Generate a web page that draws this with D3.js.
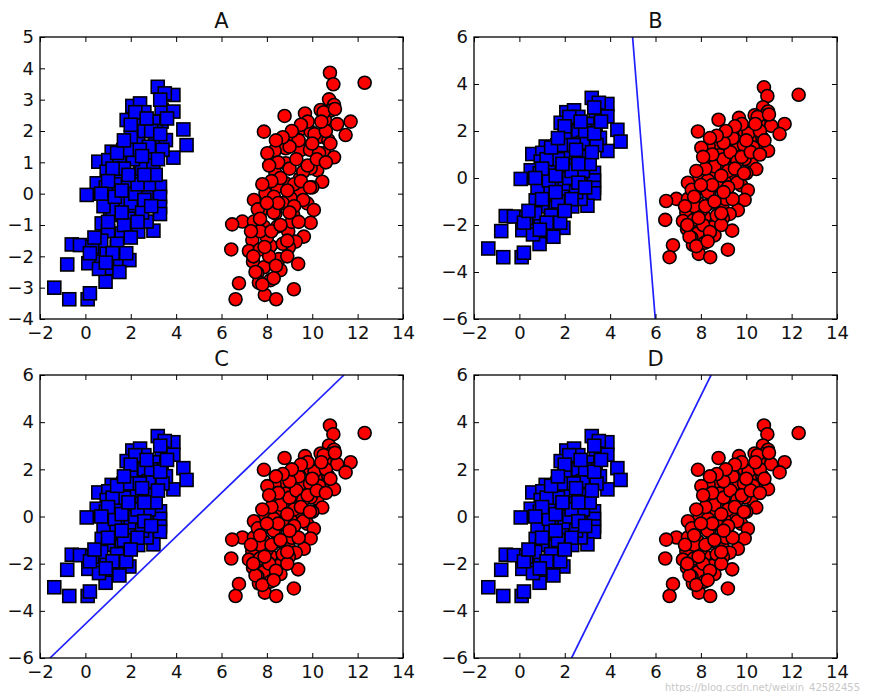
<!DOCTYPE html>
<html><head><meta charset="utf-8">
<script src="https://cdn.jsdelivr.net/npm/d3@7"></script>
<style>body{margin:0;background:#fff;} svg{display:block;}</style>
</head><body>
<svg id="chart" width="870" height="692"></svg>
<script>
const blueX = [3.19,3.88,3.5,2.07,2.41,3.36,3.88,1.82,2.35,3.36,4.32,4.46,3.88,2.33,3.07,3.55,1.16,1.67,2.88,0.57,1.01,2.41,0.94,0.5,1.09,0.06,2.41,2.92,3.29,3.29,3.29,3.29,2.19,2.7,1.53,0.72,1.6,2.33,3.0,2.7,1.09,-0.6,-0.24,0.42,1.38,-0.8,0.42,1.16,1.53,1.94,0.94,0.13,0.89,-1.37,-0.71,0.1,0.2,
  1.5,1.8,2.0,1.2,2.5,2.1,1.5,2.8,1.0,1.4,0.7,2.0,2.6,3.0,2.8,1.9,2.5,1.3,0.8,2.6,3.1,1.7,2.2,0.3,1.8,0.6,1.9,3.4,3.0,1.2,2.2,0.9,1.7,
  1.3,1.6,2.3,2.6,2.9,3.1,2.4,1.9,1.0,0.7,1.4,1.0,1.6,2.3,2.0,1.2,0.2,0.9,1.5,2.5,2.9,3.3,2.7,3.6,3.3,2.0,1.7,3.2,2.6,0.4];
const blueY = [3.41,3.15,3.2,2.8,2.88,2.67,2.62,2.35,2.33,2.3,2.05,1.55,1.15,1.66,1.66,1.71,1.34,1.39,1.23,1.02,1.07,1.02,0.7,0.33,0.01,-0.04,0.49,0.54,0.22,-0.1,-0.42,-0.65,-0.42,0.01,-0.31,-0.95,-1.27,-1.21,-1.18,-0.89,-0.68,-1.62,-1.64,-1.8,-1.69,-2.26,-2.17,-2.38,-2.12,-2.12,-1.9,-2.22,-2.81,-3.0,-3.37,-3.37,-3.18,
  0.5,0.2,-0.3,-0.5,0.8,1.1,1.0,0.3,-1.2,-1.6,-1.5,1.8,2.0,2.3,1.5,-0.8,-0.6,0.3,-0.4,2.6,2.0,0.8,0.0,-1.7,-1.9,-2.4,1.4,1.4,0.9,0.8,2.6,0.2,-1.0,
  -0.1,0.1,0.3,-0.2,-0.4,0.6,1.4,0.6,0.4,0.0,1.3,-0.9,-0.6,-0.9,-1.4,-1.9,-1.9,-2.2,-2.5,1.2,2.0,1.9,2.4,2.4,3.0,2.2,1.7,1.1,0.6,-1.4];
const redX = [10.78,10.93,12.31,10.74,10.96,10.81,10.37,10.56,9.68,8.78,7.87,11.1,11.69,11.47,9.59,9.19,9.93,10.37,10.71,10.52,10.96,10.22,10.44,9.93,9.49,8.83,8.34,8.02,8.83,8.38,9.46,8.83,8.46,7.94,9.49,7.43,8.31,9.05,9.78,10.07,7.72,8.38,9.16,9.93,6.92,6.47,7.43,7.87,8.46,8.94,9.63,9.27,6.43,7.36,7.21,7.69,8.16,8.97,8.53,7.39,7.87,8.6,9.38,7.58,8.16,6.77,7.65,9.19,6.62,7.91,8.41,
  8.6,9.0,9.3,8.7,9.2,9.6,9.9,10.1,8.3,8.0,7.7,8.7,9.1,9.6,10.3,10.6,9.8,8.5,7.6,7.5,8.1,9.4,10.0,8.9,10.5,11.0,8.2,9.0,
  8.5,8.9,9.2,9.5,9.8,10.2,10.0,9.5,9.1,8.7,8.4,8.1,7.8,7.7,8.2,8.6,9.4,8.9,8.4,7.9,7.3,7.4,7.8,8.3,10.4,10.8,10.6,9.9,9.0,8.0];
const redY = [3.86,3.49,3.54,3.01,2.83,2.65,2.67,2.35,2.56,2.48,1.98,2.22,2.3,1.87,2.09,1.82,1.98,1.82,1.71,1.29,1.16,0.75,0.38,0.81,1.39,1.45,1.37,1.29,0.97,0.65,0.49,0.33,0.22,0.01,0.06,-0.2,-0.1,-0.15,-0.31,-0.52,-0.57,-0.63,-0.68,-0.93,-0.89,-0.98,-0.89,-1.05,-1.05,-1.21,-1.37,-1.53,-1.78,-1.48,-1.83,-1.78,-1.67,-1.71,-2.09,-2.17,-2.35,-2.44,-2.24,-2.54,-2.76,-2.86,-2.84,-3.05,-3.37,-3.23,-3.37,
  0.5,0.8,1.1,-0.3,0.3,0.7,1.4,1.9,-0.6,-1.4,-1.2,-1.6,-0.9,-0.2,1.3,2.0,2.3,1.0,-0.5,-2.5,-2.0,1.7,0.2,-2.0,2.6,2.7,0.4,1.5,
  -0.3,0.1,-0.4,0.4,0.9,1.1,1.6,2.2,2.0,1.8,1.7,0.9,0.3,-0.8,-1.2,-1.0,-0.9,-1.5,-2.3,-1.7,-1.2,-2.0,-2.9,-2.7,2.3,1.6,1.0,0.2,-0.6,-0.3];

const titles = ["A","B","C","D"];
const xTicks = [-2,0,2,4,6,8,10,12,14];
const yTicksA = [-4,-3,-2,-1,0,1,2,3,4,5];
const yTicksB = [-6,-4,-2,0,2,4,6];
// separating lines (x endpoints, y endpoints) for panels B, C, D
const lineBX = [4.99,5.99], lineBY = [6,-6];
const lineCX = [-1.56,11.4], lineCY = [-6,6];
const lineDX = [2.3,8.45],  lineDY = [-6,6];
const watermark = "https://blog.csdn.net/weixin_42582455";

const panels = [
  {title:titles[0], left:40, top:37, right:403, bottom:319, ydom:[-4,5], yt:yTicksA, line:null},
  {title:titles[1], left:474, top:37, right:837, bottom:319, ydom:[-6,6], yt:yTicksB, line:[lineBX,lineBY]},
  {title:titles[2], left:40, top:375, right:403, bottom:658, ydom:[-6,6], yt:yTicksB, line:[lineCX,lineCY]},
  {title:titles[3], left:474, top:375, right:837, bottom:658, ydom:[-6,6], yt:yTicksB, line:[lineDX,lineDY]}
];

const svg = d3.select("#chart");
const font = "DejaVu Sans, Bitstream Vera Sans, sans-serif";
const blue = d3.zip(blueX, blueY), red = d3.zip(redX, redY);
const S = 13;

panels.forEach(p => {
  const x = d3.scaleLinear().domain([-2,14]).range([p.left,p.right]);
  const y = d3.scaleLinear().domain(p.ydom).range([p.bottom,p.top]);
  const g = svg.append("g");
  const clipId = "clip"+p.title;
  g.append("clipPath").attr("id",clipId).append("rect")
    .attr("x",p.left).attr("y",p.top).attr("width",p.right-p.left).attr("height",p.bottom-p.top);
  const plot = g.append("g").attr("clip-path",`url(#${clipId})`);
  plot.selectAll("rect.sq").data(blue).join("rect").attr("class","sq")
    .attr("x",d=>x(d[0])-S/2).attr("y",d=>y(d[1])-S/2).attr("width",S).attr("height",S)
    .attr("fill","#0000ff").attr("stroke","#000").attr("stroke-width",1.6);
  plot.selectAll("circle").data(red).join("circle")
    .attr("cx",d=>x(d[0])).attr("cy",d=>y(d[1])).attr("r",S/2)
    .attr("fill","#ff0000").attr("stroke","#000").attr("stroke-width",1.6);
  if (p.line) {
    plot.append("line")
      .attr("x1",x(p.line[0][0])).attr("y1",y(p.line[1][0]))
      .attr("x2",x(p.line[0][1])).attr("y2",y(p.line[1][1]))
      .attr("stroke","#2020ff").attr("stroke-width",1.7);
  }
  const axB = d3.axisBottom(x).tickValues(xTicks).tickSizeInner(-5).tickSizeOuter(0).tickPadding(7);
  const axT = d3.axisTop(x).tickValues(xTicks).tickSizeInner(-5).tickSizeOuter(0).tickFormat("");
  const axL = d3.axisLeft(y).tickValues(p.yt).tickSizeInner(-5).tickSizeOuter(0).tickPadding(6);
  const axR = d3.axisRight(y).tickValues(p.yt).tickSizeInner(-5).tickSizeOuter(0).tickFormat("");
  const styleAx = sel => { sel.select(".domain").remove();
    sel.selectAll("line").attr("stroke","#000").attr("stroke-width",1);
    sel.selectAll("text").attr("fill","#111").style("font-family",font).style("font-size","18px"); };
  g.append("g").attr("transform",`translate(0,${p.bottom})`).call(axB).call(styleAx);
  g.append("g").attr("transform",`translate(0,${p.top})`).call(axT).call(styleAx);
  g.append("g").attr("transform",`translate(${p.left},0)`).call(axL).call(styleAx);
  g.append("g").attr("transform",`translate(${p.right},0)`).call(axR).call(styleAx);
  g.append("rect").attr("x",p.left).attr("y",p.top).attr("width",p.right-p.left).attr("height",p.bottom-p.top)
    .attr("fill","none").attr("stroke","#000").attr("stroke-width",1.3);
  g.append("text").attr("x",(p.left+p.right)/2).attr("y",p.top-9).attr("text-anchor","middle")
    .style("font-family",font).style("font-size","21px").attr("fill","#111").text(p.title);
});

svg.append("text").attr("x",860).attr("y",691).attr("text-anchor","end")
  .style("font-family",font).style("font-size","10px").attr("fill","#bbbbbb").attr("opacity",0.8)
  .text(watermark);
</script>
</body></html>
